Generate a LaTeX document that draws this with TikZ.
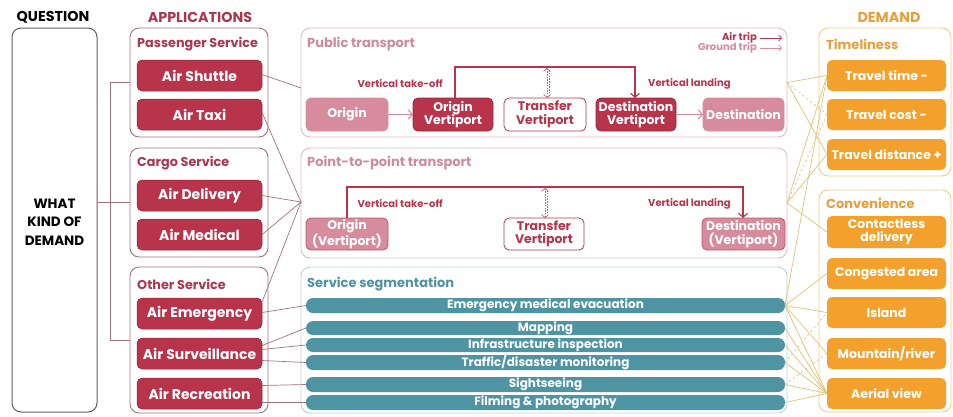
\documentclass[tikz,border=0pt]{standalone}
\usepackage{fontspec}
\setmainfont{Poppins}
\usetikzlibrary{arrows.meta,calc}
\definecolor{dred}{RGB}{183,52,74}
\definecolor{lpink}{RGB}{214,140,156}
\definecolor{grpc}{RGB}{160,115,122}
\definecolor{hdred}{RGB}{170,55,80}
\definecolor{pinkbord}{RGB}{222,188,196}
\definecolor{pinktitle}{RGB}{205,140,158}
\definecolor{tealc}{RGB}{78,148,162}
\definecolor{tealbord}{RGB}{180,212,218}
\definecolor{orng}{RGB}{243,160,45}
\definecolor{orbord}{RGB}{240,205,140}
\definecolor{ortitle}{RGB}{232,158,60}
\definecolor{gold}{RGB}{222,195,115}
\definecolor{qgray}{RGB}{95,95,95}
\begin{document}
\begin{tikzpicture}[x=1pt,y=-1pt,font=\bfseries,
  bx/.style={anchor=north west,inner sep=0pt,outer sep=0pt,rounded corners=5pt,align=center},
  grp/.style={bx,draw=grpc,line width=0.9pt,rounded corners=9pt},
  grptitle/.style={anchor=west,inner sep=0pt,text=hdred,font=\bfseries\fontsize{12.8}{14}\selectfont},
  appbox/.style={bx,fill=dred,draw=dred!80!black,line width=0.5pt,text=white,minimum width=125pt,minimum height=31pt,font=\bfseries\fontsize{14}{15}\selectfont},
  mid/.style={bx,line width=0.9pt,rounded corners=9pt,minimum width=486pt},
  midtitle/.style={anchor=west,inner sep=0pt,font=\bfseries\fontsize{13}{14}\selectfont},
  vp/.style={bx,line width=0.8pt,minimum height=33pt,font=\bfseries\fontsize{12.5}{13.5}\selectfont},
  dk/.style={vp,fill=dred,draw=dred!80!black,text=white},
  lt/.style={vp,fill=lpink,draw=lpink,text=white},
  wt/.style={vp,fill=white,draw=dred,text=dred},
  bar/.style={bx,fill=tealc,rounded corners=7pt,minimum width=479pt,text=white,font=\bfseries\fontsize{12}{12}\selectfont},
  dem/.style={bx,fill=orng,text=white,minimum width=119pt,minimum height=31pt,font=\bfseries\fontsize{12.5}{13.5}\selectfont},
  dgrp/.style={bx,draw=orbord,line width=0.9pt,rounded corners=9pt,minimum width=132pt},
  small/.style={inner sep=0pt,font=\bfseries\fontsize{10}{11}\selectfont},
  legend/.style={inner sep=0pt,font=\bfseries\fontsize{10}{10}\selectfont},
  hdr/.style={inner sep=0pt,font=\bfseries\fontsize{14.3}{15}\selectfont},
  air/.style={dred,line width=1.1pt},
  gnd/.style={lpink,line width=1.1pt},
  link/.style={grpc,line width=0.7pt},
  dlink/.style={gold,line width=0.7pt},
  ddash/.style={gold,line width=0.7pt,dash pattern=on 2pt off 3pt},
  vdash/.style={dred!80,line width=0.7pt,dash pattern=on 1.5pt off 1.2pt}]
\useasboundingbox (0,0) rectangle (953,416);

% Headers
\node[hdr] (qh) at (53,17) {QUESTION};
\node[hdr,text=hdred] (ah) at (200,17) {APPLICATIONS};
\node[hdr,text=ortitle] (dh) at (889,17) {DEMAND};

% Question
\node[bx,draw=qgray,line width=1pt,rounded corners=9pt,minimum width=85pt,minimum height=384pt] (qbox) at (12,28) {};
\node[align=center,font=\bfseries\fontsize{13.5}{18.5}\selectfont] (qtext) at (54.5,222) {WHAT\\KIND OF\\DEMAND};

% Application groups
\node[grp,minimum width=138pt,minimum height=109pt] (pass) at (130,28) {};
\node[grptitle] (passT) at (137,44) {Passenger Service};
\node[appbox] (shuttle) at (137,60) {Air Shuttle};
\node[appbox] (taxi) at (137,99) {Air Taxi};

\node[grp,minimum width=138pt,minimum height=109pt] (cargo) at (130,148) {};
\node[grptitle] (cargoT) at (137,163) {Cargo Service};
\node[appbox] (deliv) at (137,180) {Air Delivery};
\node[appbox] (medic) at (137,219) {Air Medical};

\node[grp,minimum width=138pt,minimum height=146pt] (other) at (130,267) {};
\node[grptitle] (otherT) at (137,284) {Other Service};
\node[appbox] (emerg) at (137,298) {Air Emergency};
\node[appbox] (surv) at (137,338) {Air Surveillance};
\node[appbox] (recr) at (137,378) {Air Recreation};

% bracket from question
\draw[link] (qbox.east |- cargo.west) -- (cargo.west);
\draw[link] (pass.west) -- ++(-20,0) |- (other.west);

% Middle panels
\node[mid,draw=pinkbord,minimum height=109pt] (pub) at (301,28) {};
\node[midtitle,text=pinktitle] (pubT) at (307,44) {Public transport};
\node[mid,draw=pinkbord,minimum height=110pt] (p2p) at (301,148) {};
\node[midtitle,text=pinktitle] (p2pT) at (307,163) {Point-to-point transport};
\node[mid,draw=tealbord,minimum height=146pt] (seg) at (301,267) {};
\node[midtitle,text=tealc] (segT) at (307,284) {Service segmentation};

% legend
\node[legend,text=dred,anchor=east] (airL) at (757,38) {Air trip};
\node[legend,text=lpink,anchor=east] (gndL) at (757,48) {Ground trip};
\coordinate (airE) at (782,38);
\coordinate (gndE) at (782,48);
\draw[air,line width=0.7pt,-{Straight Barb[length=3pt,width=6pt]}] ($(airL.east)+(3,0)$) -- (airE);
\draw[gnd,line width=0.7pt,-{Straight Barb[length=3pt,width=6pt]}] ($(gndL.east)+(3,0)$) -- (gndE);

% Public transport boxes
\node[lt,minimum width=82pt] (orig) at (306,98) {Origin};
\node[dk,minimum width=80pt] (overt) at (413,98) {Origin\\Vertiport};
\node[wt,minimum width=82pt] (trans) at (504,98) {Transfer\\Vertiport};
\node[dk,minimum width=80pt] (dvert) at (596,98) {Destination\\Vertiport};
\node[lt,minimum width=81pt] (dest) at (703,98) {Destination};

\draw[gnd,-{Straight Barb[length=4pt,width=9pt]}] (orig.east) -- (overt.west);
\draw[gnd,-{Straight Barb[length=4pt,width=9pt]}] (dvert.east) -- (dest.west);
\coordinate (pubTop) at (455,67);
\draw[air,-{Straight Barb[length=4pt,width=9pt]}] (overt.north -| pubTop) -- (pubTop) -| ($(dvert.north)+(-1,0)$);
\draw[vdash,{Straight Barb[length=3pt,width=7pt]}-{Straight Barb[length=3pt,width=7pt]}] ($(trans.north -| 547,0)+(0,0)$) -- ($(pubTop -| 547,0)+(0,1)$);
\draw[vdash] ($(trans.north -| 549.5,0)+(0,-2)$) -- ($(pubTop -| 549.5,0)+(0,3)$);
\node[small,text=dred,anchor=east] (vto1) at (443,84) {Vertical take-off};
\node[small,text=dred,anchor=west] (vl1) at (648,84) {Vertical landing};

% Point-to-point boxes
\node[lt,draw=dred!85,minimum width=82pt,minimum height=32pt] (porig) at (306,218) {Origin\\(Vertiport)};
\node[wt,minimum width=80pt,minimum height=32pt] (ptrans) at (504,218) {Transfer\\Vertiport};
\node[lt,draw=dred!85,minimum width=83pt,minimum height=32pt] (pdest) at (702,218) {Destination\\(Vertiport)};
\coordinate (p2pTop) at (347,187);
\draw[air,-{Straight Barb[length=4pt,width=9pt]}] (porig.north -| p2pTop) -- (p2pTop) -| (743,0 |- pdest.north);
\draw[vdash,{Straight Barb[length=3pt,width=7pt]}-{Straight Barb[length=3pt,width=7pt]}] (ptrans.north -| 545,0) -- ($(p2pTop -| 545,0)+(0,1)$);
\draw[vdash] ($(ptrans.north -| 547.5,0)+(0,-2)$) -- ($(p2pTop -| 547.5,0)+(0,3)$);
\node[small,text=dred,anchor=east] (vto2) at (443,204) {Vertical take-off};
\node[small,text=dred,anchor=west] (vl2) at (648,204) {Vertical landing};

% Service bars
\node[bar,minimum height=15pt] (b1) at (306,298) {Emergency medical evacuation};
\node[bar,minimum height=14pt] (b2) at (306,321) {Mapping};
\node[bar,minimum height=14pt] (b3) at (306,338) {Infrastructure inspection};
\node[bar,minimum height=15pt] (b4) at (306,355) {Traffic/disaster monitoring};
\node[bar,minimum height=15pt] (b5) at (306,377) {Sightseeing};
\node[bar,minimum height=15pt] (b6) at (306,395) {Filming \& photography};

% Demand
\node[dgrp,minimum height=148pt] (tgrp) at (819,28) {};
\node[midtitle,text=ortitle] (tgrpT) at (826,44) {Timeliness};
\node[dem] (ttime) at (827,60) {Travel time -};
\node[dem] (tcost) at (827,99) {Travel cost -};
\node[dem] (tdist) at (827,139) {Travel distance +};
\node[dgrp,minimum height=222pt] (cgrp) at (819,190) {};
\node[midtitle,text=ortitle] (cgrpT) at (826,203) {Convenience};
\node[dem,minimum height=32pt] (contact) at (827,216) {Contactless\\delivery};
\node[dem] (congest) at (827,258) {Congested area};
\node[dem] (island) at (827,297) {Island};
\node[dem] (mount) at (827,338) {Mountain/river};
\node[dem] (aerial) at (827,378) {Aerial view};

% Application -> middle links
\coordinate (pubIn) at (301,88);
\coordinate (p2pIn) at (301,202);
\draw[link] ($(shuttle.east)+(0,-1)$) -- (pubIn);
\draw[link] ($(taxi.east)+(0,-2)$) -- (p2pIn);
\draw[link] (deliv.east) -- (p2pIn);
\draw[link] (medic.east) -- (p2pIn);
\draw[link] ($(emerg.north east)+(0,4)$) -- (p2pIn);
\draw[link] ($(emerg.east)+(0,-1)$) -- (b1.west);
\draw[link] ($(surv.east)+(0,-8)$) -- (b2.west);
\draw[link] ($(surv.east)+(0,-4)$) -- (b3.west);
\draw[link] ($(surv.east)+(0,7)$) -- (b4.west);
\draw[link] ($(recr.east)+(0,-8)$) -- (b5.west);
\draw[link] ($(recr.east)+(0,9)$) -- (b6.west);

% Middle -> demand links
\draw[dlink] (pub.east) -- (ttime.west);
\draw[ddash] (pub.east) -- (tcost.west);
\draw[dlink] (pub.east) -- (tdist.west);
\draw[dlink] (p2p.east) -- (ttime.west);
\draw[ddash] (p2p.east) -- (tcost.west);
\draw[dlink] (p2p.east) -- (tdist.west);
\draw[dlink] (p2p.east) -- (contact.west);
\draw[dlink] (b1.east) -- (ttime.west);
\draw[dlink] (b1.east) -- (congest.west);
\draw[dlink] (b1.east) -- (island.west);
\draw[dlink] (b1.east) -- (mount.west);
\draw[dlink] (b1.east) -- (aerial.west);
\draw[dlink] (b2.east) -- (aerial.west);
\draw[dlink] (b3.east) -- (aerial.west);
\draw[dlink] (b4.east) -- (aerial.west);
\draw[dlink] (b5.east) -- (aerial.west);
\draw[dlink] (b6.east) -- (aerial.west);
\draw[ddash] (b4.east) -- (island.west);
\draw[ddash] (b5.east) -- (mount.west);
\end{tikzpicture}
\end{document}
